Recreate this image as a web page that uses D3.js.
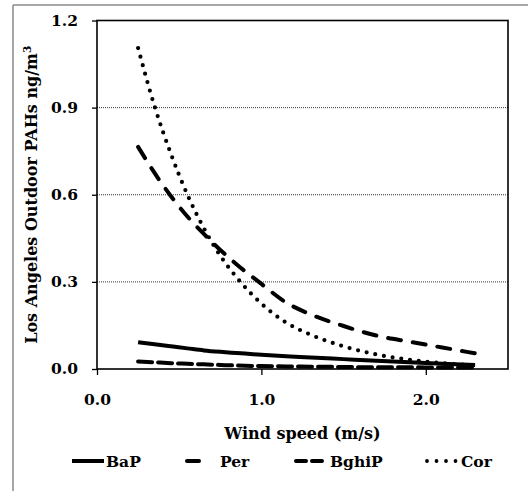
<!DOCTYPE html>
<html><head><meta charset="utf-8">
<script src="https://cdn.jsdelivr.net/npm/d3@7"></script>
<style>
html,body{margin:0;padding:0;background:#fff;}
svg{display:block;}
text{font-family:"DejaVu Serif",serif;font-weight:bold;fill:#000;}
</style></head>
<body>
<svg id="chart" width="528" height="491"></svg>
<script>
const windSpeed = [0.25, 0.35, 0.45, 0.55, 0.65, 0.75, 0.85, 1.0, 1.15, 1.3, 1.5, 1.7, 1.9, 2.1, 2.3];
const bap   = [0.092, 0.085, 0.078, 0.071, 0.064, 0.059, 0.055, 0.049, 0.044, 0.040, 0.034, 0.028, 0.023, 0.018, 0.014];
const per   = [0.765, 0.675, 0.595, 0.525, 0.465, 0.41, 0.36, 0.293, 0.229, 0.188, 0.148, 0.115, 0.094, 0.074, 0.054];
const bghip = [0.026, 0.023, 0.020, 0.018, 0.016, 0.014, 0.012, 0.010, 0.009, 0.008, 0.007, 0.006, 0.006, 0.005, 0.005];
const cor   = [1.105, 0.905, 0.74, 0.60, 0.485, 0.39, 0.315, 0.225, 0.160, 0.118, 0.078, 0.050, 0.032, 0.020, 0.012];
const seriesNames = ["BaP", "Per", "BghiP", "Cor"];
const xTicks = [0.0, 1.0, 2.0];
const yTicks = [0.0, 0.3, 0.6, 0.9, 1.2];

const svg = d3.select("#chart");
// outer frame (top and left visible)
svg.append("line").attr("x1",13).attr("y1",5).attr("x2",528).attr("y2",5).attr("stroke","#8a8a8a").attr("stroke-width",1.5);
svg.append("line").attr("x1",13).attr("y1",5).attr("x2",13).attr("y2",491).attr("stroke","#8a8a8a").attr("stroke-width",1.5);

const L=97, R=508, T=20.5, B=369;
const x = d3.scaleLinear().domain([0,2.5]).range([L,R]);
const y = d3.scaleLinear().domain([0,1.2]).range([B,T]);

// gridlines
svg.append("g").selectAll("line").data(yTicks.filter(d=>d>0 && d<1.2)).join("line")
  .attr("x1",L).attr("x2",R).attr("y1",d=>y(d)).attr("y2",d=>y(d))
  .attr("stroke","#000").attr("stroke-width",0.8).attr("stroke-dasharray","1,1");

// axes
const yAxis = svg.append("g").attr("transform",`translate(${L},0)`)
  .call(d3.axisLeft(y).tickValues(yTicks).tickFormat(d3.format(".1f")).tickSize(5).tickPadding(14));
const xAxis = svg.append("g").attr("transform",`translate(0,${B})`)
  .call(d3.axisBottom(x).tickValues(xTicks).tickFormat(d3.format(".1f")).tickSize(6).tickPadding(19));
[yAxis,xAxis].forEach(a=>{
  a.select(".domain").remove();
  a.selectAll(".tick line").attr("stroke","#000").attr("stroke-width",1.3);
  a.selectAll("text").style("font-family","DejaVu Serif").style("font-weight","bold").style("font-size","15.5px");
});

// plot border
svg.append("rect").attr("x",L).attr("y",T).attr("width",R-L).attr("height",B-T)
  .attr("fill","none").attr("stroke","#000").attr("stroke-width",1.6);

const styles = {
  "BaP":   {data:bap,   dash:null,     cap:"butt"},
  "Per":   {data:per,   dash:"13,12",  cap:"round"},
  "BghiP": {data:bghip, dash:"14,6",   cap:"round"},
  "Cor":   {data:cor,   dash:"0,8.8",  cap:"round"}
};
const line = d3.line().x(d=>x(d[0])).y(d=>y(d[1])).curve(d3.curveMonotoneX);
seriesNames.forEach(n=>{
  const s = styles[n];
  svg.append("path").datum(windSpeed.map((w,i)=>[w,s.data[i]]))
    .attr("d",line).attr("fill","none").attr("stroke","#000")
    .attr("stroke-width", n==="Cor"?4.2:4).attr("stroke-linecap",s.cap)
    .attr("stroke-dasharray",s.dash);
});

// axis titles
svg.append("text").attr("x",(L+R)/2).attr("y",439).attr("text-anchor","middle")
  .style("font-size","16px").text("Wind speed (m/s)");
const yt = svg.append("text").attr("transform",`translate(37,${(T+B)/2}) rotate(-90)`)
  .attr("text-anchor","middle").style("font-size","16px");
yt.append("tspan").text("Los Angeles Outdoor PAHs ng/m");
yt.append("tspan").attr("dy",-6).style("font-size","10.5px").text("3");

// legend
const legend = [
  {name:"BaP",   x1:72,  x2:104, tx:106},
  {name:"Per",   x1:187, x2:199, tx:220},
  {name:"BghiP", x1:296, x2:323, tx:330},
  {name:"Cor",   x1:427, x2:457, tx:461}
];
const lg = svg.append("g");
legend.forEach(l=>{
  const s = styles[l.name];
  const ly = 461;
  let dash = s.dash;
  if(l.name==="BghiP") dash="10,6";
  if(l.name==="Cor") dash="0,9.5";
  lg.append("line").attr("x1",l.x1).attr("x2",l.x2).attr("y1",ly).attr("y2",ly)
    .attr("stroke","#000").attr("stroke-width",l.name==="Cor"?3.8:4).attr("stroke-linecap",l.name==="BaP"?"butt":"round")
    .attr("stroke-dasharray",dash);
  lg.append("text").attr("x",l.tx).attr("y",ly+5.5).style("font-size","15.5px").text(l.name);
});
</script>
</body></html>
